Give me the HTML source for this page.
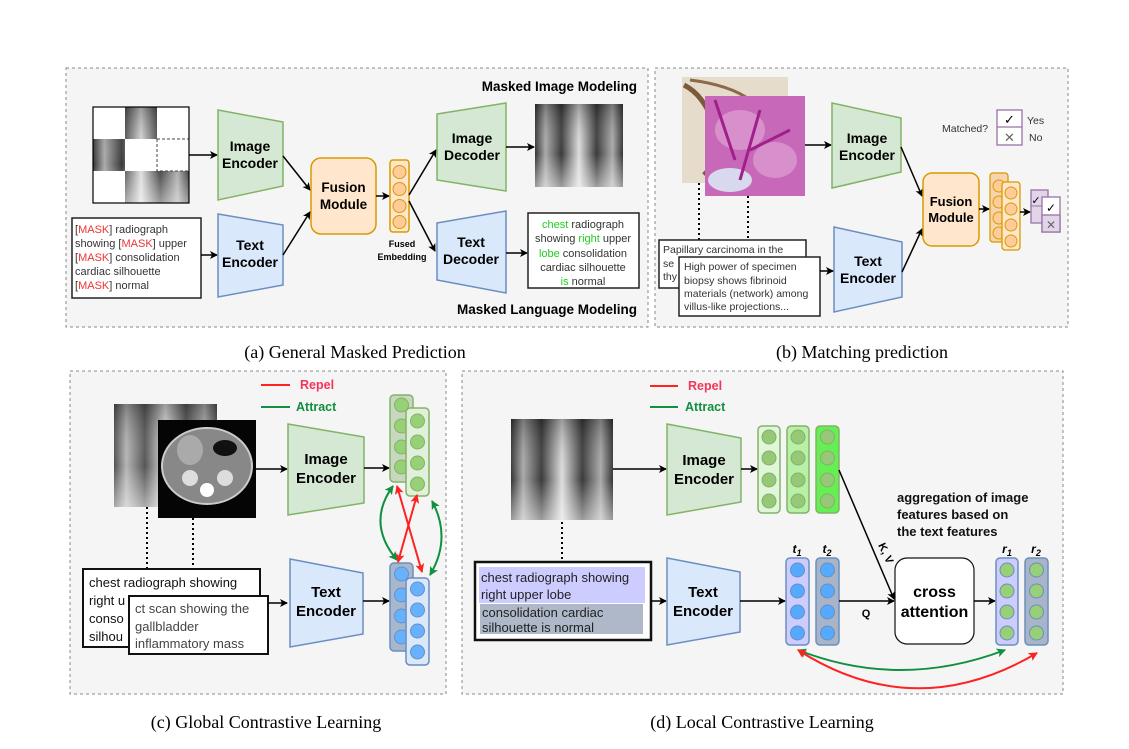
<!DOCTYPE html>
<html><head><meta charset="utf-8"><style>
html,body{margin:0;padding:0;background:#fff;}
svg{display:block;font-family:"Liberation Sans",sans-serif;}
.b{font-weight:bold;}
.cap{font-family:"Liberation Serif",serif;font-size:18px;}
</style></head><body>
<svg width="1129" height="749" viewBox="0 0 1129 749" xmlns="http://www.w3.org/2000/svg">
<defs>
<marker id="ar" markerWidth="8" markerHeight="8" refX="7" refY="4" orient="auto" markerUnits="userSpaceOnUse"><path d="M0,0 L8,4 L0,8 L2,4z" fill="#000"/></marker>
<marker id="arR" markerWidth="9" markerHeight="9" refX="8" refY="4.5" orient="auto-start-reverse" markerUnits="userSpaceOnUse"><path d="M0,0 L9,4.5 L0,9 L2,4.5z" fill="#f22"/></marker>
<marker id="arG" markerWidth="9" markerHeight="9" refX="8" refY="4.5" orient="auto-start-reverse" markerUnits="userSpaceOnUse"><path d="M0,0 L9,4.5 L0,9 L2,4.5z" fill="#109040"/></marker>
<linearGradient id="xr" x1="0" x2="1" y1="0" y2="0">
<stop offset="0" stop-color="#333"/><stop offset="0.12" stop-color="#aaa"/><stop offset="0.3" stop-color="#3a3a3a"/><stop offset="0.5" stop-color="#ddd"/><stop offset="0.7" stop-color="#3a3a3a"/><stop offset="0.88" stop-color="#aaa"/><stop offset="1" stop-color="#333"/></linearGradient>
<linearGradient id="xrv" x1="0" x2="0" y1="0" y2="1"><stop offset="0" stop-color="#000" stop-opacity="0.3"/><stop offset="0.6" stop-color="#fff" stop-opacity="0"/><stop offset="1" stop-color="#fff" stop-opacity="0.5"/></linearGradient>
</defs>

<!-- ========== Panel a ========== -->
<rect x="66" y="68" width="582" height="259" fill="#f5f5f5" stroke="#888" stroke-dasharray="3,3"/>
<text x="637" y="91" text-anchor="end" class="b" font-size="13.5">Masked Image Modeling</text>
<text x="637" y="314" text-anchor="end" class="b" font-size="13.5">Masked Language Modeling</text>
<!-- grid image -->
<rect x="93" y="107" width="96" height="96" fill="url(#xr)"/>
<rect x="93" y="107" width="96" height="96" fill="url(#xrv)"/>
<rect x="93" y="107" width="32" height="32" fill="#fff"/>
<rect x="157" y="107" width="32" height="32" fill="#fff"/>
<rect x="125" y="139" width="32" height="32" fill="#fff"/>
<rect x="157" y="139" width="32" height="32" fill="#fff" stroke="#444" stroke-dasharray="3,2"/>
<rect x="93" y="171" width="32" height="32" fill="#fff"/>
<rect x="93" y="107" width="96" height="96" fill="none" stroke="#000" stroke-width="1.2"/>
<line x1="189" y1="155" x2="217" y2="155" stroke="#000" stroke-width="1.5" marker-end="url(#ar)"/>
<polygon points="218,110 283,122 283,186 218,200" fill="#d5e8d4" stroke="#82b366" stroke-width="1.5"/>
<text x="250" y="151" text-anchor="middle" class="b" font-size="14">Image</text>
<text x="250" y="168" text-anchor="middle" class="b" font-size="14">Encoder</text>
<rect x="72" y="218" width="129" height="80" fill="#fff" stroke="#222" stroke-width="1.5"/>
<g font-size="11" fill="#333">
<text x="75" y="233"><tspan fill="#333">[</tspan><tspan fill="#e33">MASK</tspan>] radiograph</text>
<text x="75" y="247">showing [<tspan fill="#e33">MASK</tspan>] upper</text>
<text x="75" y="261">[<tspan fill="#e33">MASK</tspan>] consolidation</text>
<text x="75" y="275">cardiac silhouette</text>
<text x="75" y="289">[<tspan fill="#e33">MASK</tspan>] normal</text>
</g>
<line x1="201" y1="255" x2="217" y2="255" stroke="#000" stroke-width="1.5" marker-end="url(#ar)"/>
<polygon points="218,214 283,225 283,285 218,297" fill="#dae8fc" stroke="#6c8ebf" stroke-width="1.5"/>
<text x="250" y="250" text-anchor="middle" class="b" font-size="14">Text</text>
<text x="250" y="267" text-anchor="middle" class="b" font-size="14">Encoder</text>
<line x1="283" y1="156" x2="310" y2="190" stroke="#000" stroke-width="1.5" marker-end="url(#ar)"/>
<line x1="283" y1="255" x2="310" y2="212" stroke="#000" stroke-width="1.5" marker-end="url(#ar)"/>
<rect x="311" y="158" width="65" height="76" rx="10" fill="#ffe6cc" stroke="#d79b00" stroke-width="1.5"/>
<text x="343.5" y="192" text-anchor="middle" class="b" font-size="13.5">Fusion</text>
<text x="343.5" y="209" text-anchor="middle" class="b" font-size="13.5">Module</text>
<line x1="376" y1="196" x2="389" y2="196" stroke="#000" stroke-width="1.5" marker-end="url(#ar)"/>
<rect x="390" y="160" width="19" height="72" rx="3" fill="#ffe6cc" stroke="#d79b00" stroke-width="1.5"/>
<g fill="#ffcc99" stroke="#d79b00"><circle cx="399.5" cy="172" r="6.5"/><circle cx="399.5" cy="189" r="6.5"/><circle cx="399.5" cy="206" r="6.5"/><circle cx="399.5" cy="222" r="6.5"/></g>
<text x="402" y="247" text-anchor="middle" class="b" font-size="9">Fused</text>
<text x="402" y="260" text-anchor="middle" class="b" font-size="9">Embedding</text>
<line x1="409" y1="195" x2="436" y2="150" stroke="#000" stroke-width="1.5" marker-end="url(#ar)"/>
<line x1="409" y1="201" x2="435" y2="251" stroke="#000" stroke-width="1.5" marker-end="url(#ar)"/>
<polygon points="437,114 506,103 506,191 437,180" fill="#d5e8d4" stroke="#82b366" stroke-width="1.5"/>
<text x="472" y="143" text-anchor="middle" class="b" font-size="14">Image</text>
<text x="472" y="160" text-anchor="middle" class="b" font-size="14">Decoder</text>
<polygon points="437,223 506,211 506,293 437,280" fill="#dae8fc" stroke="#6c8ebf" stroke-width="1.5"/>
<text x="471" y="247" text-anchor="middle" class="b" font-size="14">Text</text>
<text x="471" y="264" text-anchor="middle" class="b" font-size="14">Decoder</text>
<line x1="506" y1="147" x2="534" y2="147" stroke="#000" stroke-width="1.5" marker-end="url(#ar)"/>
<rect x="535" y="104" width="88" height="83" fill="url(#xr)"/>
<rect x="535" y="104" width="88" height="83" fill="url(#xrv)"/>
<line x1="506" y1="253" x2="527" y2="253" stroke="#000" stroke-width="1.5" marker-end="url(#ar)"/>
<rect x="528" y="213" width="111" height="75" fill="#fff" stroke="#222" stroke-width="1.5"/>
<g font-size="11" fill="#333" text-anchor="middle">
<text x="583" y="228"><tspan fill="#2c2">chest</tspan> radiograph</text>
<text x="583" y="242">showing <tspan fill="#2c2">right</tspan> upper</text>
<text x="583" y="257"><tspan fill="#2c2">lobe</tspan> consolidation</text>
<text x="583" y="271">cardiac silhouette</text>
<text x="583" y="285"><tspan fill="#2c2">is</tspan> normal</text>
</g>

<!-- ========== Panel b ========== -->
<rect x="655" y="68" width="413" height="259" fill="#f5f5f5" stroke="#888" stroke-dasharray="3,3"/>
<rect x="682" y="77" width="106" height="106" fill="#e6dccb"/>
<path d="M684,85 q20,10 30,40 t-10,50" stroke="#7a5a3a" stroke-width="5" fill="none"/>
<path d="M690,80 q40,5 60,20" stroke="#8a6a4a" stroke-width="3" fill="none"/>
<rect x="705" y="96" width="100" height="100" fill="#c868b8"/>
<ellipse cx="740" cy="130" rx="25" ry="20" fill="#d890cc"/>
<ellipse cx="775" cy="160" rx="22" ry="18" fill="#d890cc"/>
<ellipse cx="730" cy="180" rx="22" ry="12" fill="#d8d8ee"/>
<path d="M715,100 l20,60 M760,110 l-20,70 M790,130 l-40,20" stroke="#a0208a" stroke-width="3"/>
<line x1="699" y1="183" x2="699" y2="240" stroke="#000" stroke-width="2" stroke-dasharray="2,3"/>
<line x1="748" y1="196" x2="748" y2="257" stroke="#000" stroke-width="2" stroke-dasharray="2,3"/>
<line x1="805" y1="145" x2="831" y2="145" stroke="#000" stroke-width="1.5" marker-end="url(#ar)"/>
<polygon points="832,103 901,118 901,172 832,188" fill="#d5e8d4" stroke="#82b366" stroke-width="1.5"/>
<text x="867" y="143" text-anchor="middle" class="b" font-size="14">Image</text>
<text x="867" y="160" text-anchor="middle" class="b" font-size="14">Encoder</text>
<polygon points="834,227 902,242 902,297 834,312" fill="#dae8fc" stroke="#6c8ebf" stroke-width="1.5"/>
<text x="868" y="266" text-anchor="middle" class="b" font-size="14">Text</text>
<text x="868" y="283" text-anchor="middle" class="b" font-size="14">Encoder</text>
<rect x="659" y="240" width="147" height="48" fill="#fff" stroke="#222" stroke-width="1.5"/>
<g font-size="10.5" fill="#333">
<text x="663" y="253">Papillary carcinoma in the</text>
<text x="663" y="267">se</text><text x="663" y="280">thy</text></g>
<rect x="679" y="257" width="141" height="59" fill="#fff" stroke="#222" stroke-width="1.5"/>
<g font-size="10.5" fill="#333">
<text x="684" y="270">High power of specimen</text>
<text x="684" y="284">biopsy shows fibrinoid</text>
<text x="684" y="297">materials (network) among</text>
<text x="684" y="310">villus-like projections...</text></g>
<line x1="820" y1="271" x2="833" y2="271" stroke="#000" stroke-width="1.5" marker-end="url(#ar)"/>
<line x1="901" y1="147" x2="922" y2="196" stroke="#000" stroke-width="1.5" marker-end="url(#ar)"/>
<line x1="902" y1="272" x2="922" y2="229" stroke="#000" stroke-width="1.5" marker-end="url(#ar)"/>
<rect x="923" y="173" width="56" height="73" rx="9" fill="#ffe6cc" stroke="#d79b00" stroke-width="1.5"/>
<text x="951" y="206" text-anchor="middle" class="b" font-size="13">Fusion</text>
<text x="951" y="222" text-anchor="middle" class="b" font-size="13">Module</text>
<line x1="979" y1="209" x2="989" y2="209" stroke="#000" stroke-width="1.5" marker-end="url(#ar)"/>
<rect x="990" y="173" width="18" height="69" rx="3" fill="#f5d5b0" stroke="#d79b00" stroke-width="1.3"/>
<g fill="#ffcc99" stroke="#d79b00"><circle cx="999" cy="186" r="6"/><circle cx="999" cy="202" r="6"/><circle cx="999" cy="218" r="6"/><circle cx="999" cy="233" r="6"/></g>
<rect x="1002" y="182" width="18" height="68" rx="3" fill="#ffe6cc" stroke="#d79b00" stroke-width="1.3"/>
<g fill="#ffcc99" stroke="#d79b00"><circle cx="1011" cy="193" r="6"/><circle cx="1011" cy="209" r="6"/><circle cx="1011" cy="225" r="6"/><circle cx="1011" cy="241" r="6"/></g>
<line x1="1020" y1="212" x2="1030" y2="212" stroke="#000" stroke-width="1.5" marker-end="url(#ar)"/>
<rect x="1031" y="190" width="17" height="33" fill="#e1d5e7" stroke="#9673a6" stroke-width="1.3"/>
<line x1="1031" y1="206" x2="1048" y2="206" stroke="#9673a6"/>
<rect x="1042" y="197" width="18" height="35" fill="#fff" stroke="#9673a6" stroke-width="1.3"/>
<rect x="1042" y="215" width="18" height="17" fill="#e1d5e7" stroke="#9673a6" stroke-width="1.3"/>
<text x="1051" y="212" text-anchor="middle" font-size="12">✓</text>
<text x="1051" y="229" text-anchor="middle" font-size="12" fill="#666">✕</text>
<text x="1036" y="204" text-anchor="middle" font-size="11">✓</text>
<text x="942" y="132" font-size="10.5" fill="#333">Matched?</text>
<rect x="997" y="110" width="25" height="35" fill="#fff" stroke="#9673a6" stroke-width="1.3"/>
<line x1="997" y1="127" x2="1022" y2="127" stroke="#9673a6" stroke-width="1.3"/>
<text x="1009.5" y="124" text-anchor="middle" font-size="13">✓</text>
<text x="1009.5" y="142" text-anchor="middle" font-size="13" fill="#666">✕</text>
<text x="1027" y="124" font-size="10.5" fill="#333">Yes</text>
<text x="1029" y="141" font-size="10.5" fill="#333">No</text>

<!-- captions row 1 -->
<text x="355" y="358" text-anchor="middle" class="cap">(a) General Masked Prediction</text>
<text x="862" y="358" text-anchor="middle" class="cap">(b) Matching prediction</text>

<!-- ========== Panel c ========== -->
<rect x="70" y="371" width="376" height="323" fill="#f5f5f5" stroke="#888" stroke-dasharray="3,3"/>
<line x1="261" y1="385" x2="290" y2="385" stroke="#f22" stroke-width="2"/>
<text x="300" y="389" class="b" font-size="12.5" fill="#f2355a">Repel</text>
<line x1="261" y1="407" x2="290" y2="407" stroke="#109040" stroke-width="2"/>
<text x="296" y="411" class="b" font-size="12.5" fill="#109040">Attract</text>
<rect x="114" y="404" width="103" height="103" fill="url(#xr)" opacity="0.85"/>
<rect x="114" y="404" width="103" height="103" fill="url(#xrv)"/>
<rect x="158" y="420" width="98" height="98" fill="#050505"/>
<ellipse cx="207" cy="466" rx="45" ry="38" fill="#888" stroke="#ccc" stroke-width="2"/>
<ellipse cx="190" cy="450" rx="13" ry="15" fill="#aaa"/>
<ellipse cx="225" cy="448" rx="12" ry="8" fill="#111"/>
<circle cx="190" cy="478" r="8" fill="#ddd"/><circle cx="225" cy="478" r="8" fill="#ddd"/>
<circle cx="207" cy="490" r="7" fill="#fff"/>
<line x1="147" y1="507" x2="147" y2="569" stroke="#000" stroke-width="2" stroke-dasharray="2,3"/>
<line x1="193" y1="518" x2="193" y2="596" stroke="#000" stroke-width="2" stroke-dasharray="2,3"/>
<line x1="256" y1="469" x2="287" y2="469" stroke="#000" stroke-width="1.5" marker-end="url(#ar)"/>
<polygon points="288,424 364,437 364,503 288,515" fill="#d5e8d4" stroke="#82b366" stroke-width="1.5"/>
<text x="326" y="464" text-anchor="middle" class="b" font-size="15">Image</text>
<text x="326" y="483" text-anchor="middle" class="b" font-size="15">Encoder</text>
<line x1="364" y1="468" x2="389" y2="468" stroke="#000" stroke-width="1.5" marker-end="url(#ar)"/>
<rect x="390" y="395" width="23" height="87" rx="4" fill="#c8d8c0" stroke="#82b366" stroke-width="1.5"/>
<g fill="#97d077" stroke="#82b366"><circle cx="401.5" cy="405" r="7"/><circle cx="401.5" cy="426" r="7"/><circle cx="401.5" cy="447" r="7"/><circle cx="401.5" cy="467" r="7"/></g>
<rect x="406" y="408" width="23" height="88" rx="4" fill="#e0f0da" stroke="#82b366" stroke-width="1.5"/>
<g fill="#97d077" stroke="#82b366"><circle cx="417.5" cy="421" r="7"/><circle cx="417.5" cy="442" r="7"/><circle cx="417.5" cy="463" r="7"/><circle cx="417.5" cy="484" r="7"/></g>
<rect x="83" y="569" width="177" height="78" fill="#fff" stroke="#111" stroke-width="2"/>
<g font-size="13" fill="#111"><text x="89" y="587">chest radiograph showing</text><text x="89" y="605">right u</text><text x="89" y="623">conso</text><text x="89" y="641">silhou</text></g>
<rect x="129" y="596" width="139" height="58" fill="#fff" stroke="#111" stroke-width="2"/>
<g font-size="13" fill="#444"><text x="135" y="613">ct scan showing the</text><text x="135" y="631">gallbladder</text><text x="135" y="648">inflammatory mass</text></g>
<line x1="268" y1="603" x2="287" y2="603" stroke="#000" stroke-width="1.5" marker-end="url(#ar)"/>
<polygon points="290,559 363,573 363,634 290,647" fill="#dae8fc" stroke="#6c8ebf" stroke-width="1.5"/>
<text x="326" y="597" text-anchor="middle" class="b" font-size="15">Text</text>
<text x="326" y="616" text-anchor="middle" class="b" font-size="15">Encoder</text>
<line x1="363" y1="601" x2="389" y2="601" stroke="#000" stroke-width="1.5" marker-end="url(#ar)"/>
<rect x="390" y="563" width="23" height="88" rx="4" fill="#a8b8cc" stroke="#6c8ebf" stroke-width="1.5"/>
<g fill="#66b2ff" stroke="#6c8ebf"><circle cx="401.5" cy="574" r="7"/><circle cx="401.5" cy="595" r="7"/><circle cx="401.5" cy="616" r="7"/><circle cx="401.5" cy="637" r="7"/></g>
<rect x="406" y="578" width="23" height="87" rx="4" fill="#dae8fc" stroke="#6c8ebf" stroke-width="1.5"/>
<g fill="#66b2ff" stroke="#6c8ebf"><circle cx="417.5" cy="589" r="7"/><circle cx="417.5" cy="610" r="7"/><circle cx="417.5" cy="631" r="7"/><circle cx="417.5" cy="652" r="7"/></g>
<path d="M393,486 Q366,523 397,560" fill="none" stroke="#109040" stroke-width="2" marker-start="url(#arG)" marker-end="url(#arG)"/>
<path d="M432,501 Q452,538 430,575" fill="none" stroke="#109040" stroke-width="2" marker-start="url(#arG)" marker-end="url(#arG)"/>
<line x1="397" y1="486" x2="422" y2="572" stroke="#f22" stroke-width="2" marker-start="url(#arR)" marker-end="url(#arR)"/>
<line x1="417" y1="495" x2="398" y2="562" stroke="#f22" stroke-width="2" marker-start="url(#arR)" marker-end="url(#arR)"/>

<!-- ========== Panel d ========== -->
<rect x="462" y="371" width="601" height="323" fill="#f5f5f5" stroke="#888" stroke-dasharray="3,3"/>
<line x1="650" y1="386" x2="678" y2="386" stroke="#f22" stroke-width="2"/>
<text x="688" y="390" class="b" font-size="12.5" fill="#f2355a">Repel</text>
<line x1="650" y1="407" x2="678" y2="407" stroke="#109040" stroke-width="2"/>
<text x="685" y="411" class="b" font-size="12.5" fill="#109040">Attract</text>
<rect x="511" y="419" width="102" height="101" fill="url(#xr)"/>
<rect x="511" y="419" width="102" height="101" fill="url(#xrv)"/>
<line x1="562" y1="522" x2="562" y2="562" stroke="#000" stroke-width="2" stroke-dasharray="2,3"/>
<line x1="613" y1="469" x2="666" y2="469" stroke="#000" stroke-width="1.5" marker-end="url(#ar)"/>
<polygon points="667,424 741,438 741,502 667,515" fill="#d5e8d4" stroke="#82b366" stroke-width="1.5"/>
<text x="704" y="465" text-anchor="middle" class="b" font-size="15">Image</text>
<text x="704" y="484" text-anchor="middle" class="b" font-size="15">Encoder</text>
<line x1="741" y1="469" x2="757" y2="469" stroke="#000" stroke-width="1.5" marker-end="url(#ar)"/>
<rect x="758" y="426" width="22" height="87" rx="4" fill="#e0f5da" stroke="#82b366" stroke-width="1.5"/>
<rect x="787" y="426" width="22" height="87" rx="4" fill="#b8f0a8" stroke="#82b366" stroke-width="1.5"/>
<rect x="816" y="426" width="23" height="87" rx="4" fill="#66ee55" stroke="#82b366" stroke-width="1.5"/>
<g fill="#97c877" stroke="#82b366">
<circle cx="769" cy="437" r="7"/><circle cx="769" cy="458" r="7"/><circle cx="769" cy="480" r="7"/><circle cx="769" cy="501" r="7"/>
<circle cx="798" cy="437" r="7"/><circle cx="798" cy="458" r="7"/><circle cx="798" cy="480" r="7"/><circle cx="798" cy="501" r="7"/>
<circle cx="827.5" cy="437" r="7"/><circle cx="827.5" cy="458" r="7"/><circle cx="827.5" cy="480" r="7"/><circle cx="827.5" cy="501" r="7"/></g>
<rect x="475" y="562" width="176" height="78" fill="#fff" stroke="#111" stroke-width="2.5"/>
<rect x="479" y="567" width="166" height="36" fill="#ccccff"/>
<rect x="480" y="604" width="163" height="30" fill="#aeb8c8"/>
<g font-size="13" fill="#222"><text x="481" y="582">chest radiograph showing</text><text x="481" y="599">right upper lobe</text><text x="482" y="617">consolidation cardiac</text><text x="482" y="632">silhouette is normal</text></g>
<line x1="651" y1="601" x2="666" y2="601" stroke="#000" stroke-width="1.5" marker-end="url(#ar)"/>
<polygon points="667,558 740,572 740,632 667,645" fill="#dae8fc" stroke="#6c8ebf" stroke-width="1.5"/>
<text x="703" y="597" text-anchor="middle" class="b" font-size="15">Text</text>
<text x="703" y="616" text-anchor="middle" class="b" font-size="15">Encoder</text>
<line x1="740" y1="601" x2="785" y2="601" stroke="#000" stroke-width="1.5" marker-end="url(#ar)"/>
<rect x="786" y="558" width="23" height="87" rx="4" fill="#ccccff" stroke="#6c8ebf" stroke-width="1.5"/>
<rect x="816" y="558" width="23" height="87" rx="4" fill="#a8b4c8" stroke="#6c8ebf" stroke-width="1.5"/>
<g fill="#55aaff" stroke="#6c8ebf">
<circle cx="797.5" cy="570" r="7"/><circle cx="797.5" cy="591" r="7"/><circle cx="797.5" cy="612" r="7"/><circle cx="797.5" cy="633" r="7"/>
<circle cx="827.5" cy="570" r="7"/><circle cx="827.5" cy="591" r="7"/><circle cx="827.5" cy="612" r="7"/><circle cx="827.5" cy="633" r="7"/></g>
<text x="797" y="553" text-anchor="middle" class="b" font-size="12" font-style="italic">t<tspan font-size="9" dy="3">1</tspan></text>
<text x="827" y="553" text-anchor="middle" class="b" font-size="12" font-style="italic">t<tspan font-size="9" dy="3">2</tspan></text>
<text x="1007" y="553" text-anchor="middle" class="b" font-size="12" font-style="italic">r<tspan font-size="9" dy="3">1</tspan></text>
<text x="1036" y="553" text-anchor="middle" class="b" font-size="12" font-style="italic">r<tspan font-size="9" dy="3">2</tspan></text>
<line x1="839" y1="601" x2="894" y2="601" stroke="#000" stroke-width="1.5" marker-end="url(#ar)"/>
<text x="866" y="617" text-anchor="middle" class="b" font-size="11">Q</text>
<line x1="839" y1="470" x2="894" y2="599" stroke="#000" stroke-width="1.5" marker-end="url(#ar)"/>
<text x="878" y="545" class="b" font-size="11" transform="rotate(65 878 545)">K, V</text>
<g class="b" font-size="13" fill="#111">
<text x="897" y="502">aggregation of image</text>
<text x="897" y="519">features based on</text>
<text x="897" y="536">the text features</text></g>
<rect x="895" y="558" width="79" height="86" rx="12" fill="#fff" stroke="#111" stroke-width="1.2"/>
<text x="934.5" y="597" text-anchor="middle" class="b" font-size="16">cross</text>
<text x="934.5" y="617" text-anchor="middle" class="b" font-size="16">attention</text>
<line x1="974" y1="601" x2="995" y2="601" stroke="#000" stroke-width="1.5" marker-end="url(#ar)"/>
<rect x="996" y="558" width="22" height="87" rx="4" fill="#ccccff" stroke="#6c8ebf" stroke-width="1.5"/>
<rect x="1025" y="558" width="23" height="87" rx="4" fill="#a8b4c8" stroke="#6c8ebf" stroke-width="1.5"/>
<g fill="#97d077" stroke="#6c8ebf">
<circle cx="1007" cy="570" r="7"/><circle cx="1007" cy="591" r="7"/><circle cx="1007" cy="612" r="7"/><circle cx="1007" cy="633" r="7"/>
<circle cx="1036.5" cy="570" r="7"/><circle cx="1036.5" cy="591" r="7"/><circle cx="1036.5" cy="612" r="7"/><circle cx="1036.5" cy="633" r="7"/></g>
<path d="M798,650 Q900,690 1005,650" fill="none" stroke="#109040" stroke-width="2" marker-start="url(#arG)" marker-end="url(#arG)"/>
<path d="M798,650 Q915,725 1037,653" fill="none" stroke="#f22" stroke-width="2" marker-start="url(#arR)" marker-end="url(#arR)"/>

<text x="266" y="728" text-anchor="middle" class="cap">(c) Global Contrastive Learning</text>
<text x="762" y="728" text-anchor="middle" class="cap">(d) Local Contrastive Learning</text>
</svg>
</body></html>
